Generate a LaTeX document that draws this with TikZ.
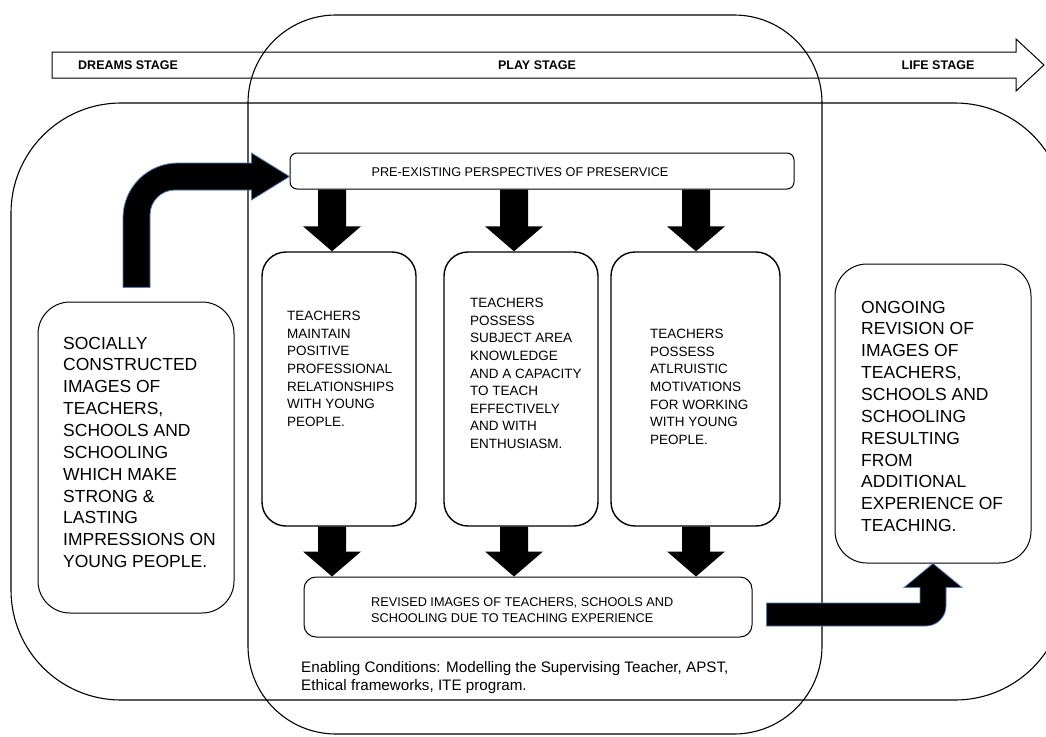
\documentclass[tikz,border=0pt]{standalone}
\usepackage{fontspec}
\setmainfont{Liberation Sans}
\usetikzlibrary{calc}
\definecolor{arrowedge}{RGB}{79,129,189}

% solid black block arrow pointing down, from #1 (top centre) to #2 (tip)
\newcommand\blockdown[2]{%
  \fill[blockfill] ($(#1)+(-14,0)$) -- ($(#2)+(-14,-25)$) -- ($(#2)+(-29,-25)$)
    -- (#2) -- ($(#2)+(29,-25)$) -- ($(#2)+(14,-25)$) -- ($(#1)+(14,0)$) -- cycle;}

\tikzset{
  frame/.style={draw=black, line width=1.1pt},
  roundbox/.style={draw=black, line width=1pt, inner sep=0pt},
  card/.style={draw=black, line width=1.4pt, rounded corners=24pt, inner sep=0pt,
               minimum height=274pt},
  words/.style={inner sep=0pt, align=left, anchor=north west},
  colwords/.style={words, font=\fontsize{13.5}{17.6}\selectfont},
  bigwords/.style={words, font=\fontsize{17.5}{21.85}\selectfont},
  smallwords/.style={inner sep=0pt, align=left, font=\fontsize{12.7}{16.3}\selectfont},
  stagewords/.style={inner sep=0pt, font=\bfseries\fontsize{12.5}{15}\selectfont},
  blockfill/.style={fill=black},
  bentfill/.style={fill=black, draw=arrowedge, line width=0.8pt, line join=miter},
}

\begin{document}
\begin{tikzpicture}[x=1pt, y=-1pt]
\useasboundingbox (0,0) rectangle (1046,736);
\clip (0,0) rectangle (1046,736);

% stage timeline arrow
\draw[line width=1pt, line join=miter]
  (52,52) -- (1016,52) -- (1016,39) -- (1044,65) -- (1016,91) -- (1016,78) -- (52,78) -- cycle;
\node[stagewords, anchor=west] (dreams) at (78,65) {DREAMS STAGE};
\node[stagewords] (play) at (537,65) {PLAY STAGE};
\node[stagewords] (life) at (938,65) {LIFE STAGE};

% the two large overlapping regions
\draw[frame, rounded corners=88pt] (248,15) rectangle (822,734);
\draw[frame, rounded corners=110pt] (11,103) rectangle (1065,700);

% boxes
\node[roundbox, rounded corners=7pt, minimum width=504pt, minimum height=36pt] (pre) at (542,171) {};
\node[smallwords] (pretext) at (520,172) {PRE-EXISTING PERSPECTIVES OF PRESERVICE};

\node[card, minimum width=154pt] (box1) at (339,389) {};
\node[card, minimum width=154pt] (box2) at (521,389) {};
\node[card, minimum width=169pt] (box3) at (695.5,389) {};

\node[colwords] (t1) at (287,311) {TEACHERS\\MAINTAIN\\POSITIVE\\PROFESSIONAL\\RELATIONSHIPS\\WITH YOUNG\\PEOPLE.};
\node[colwords] (t2) at (470,298) {TEACHERS\\POSSESS\\SUBJECT AREA\\KNOWLEDGE\\AND A CAPACITY\\TO TEACH\\EFFECTIVELY\\AND WITH\\ENTHUSIASM.};
\node[colwords] (t3) at (650,329) {TEACHERS\\POSSESS\\ATLRUISTIC\\MOTIVATIONS\\FOR WORKING\\WITH YOUNG\\PEOPLE.};

\node[roundbox, rounded corners=12pt, minimum width=448pt, minimum height=60pt] (rev) at (528,607) {};
\node[smallwords, anchor=north west] (revtext) at (371,597.4) {REVISED IMAGES OF TEACHERS, SCHOOLS AND\\SCHOOLING DUE TO TEACHING EXPERIENCE};

\node[inner sep=0pt, align=left, anchor=north west, font=\fontsize{15.2}{18}\selectfont] (enabling) at (301,661) {Enabling Conditions: Modelling the Supervising Teacher, APST,\\Ethical frameworks, ITE program.};

\node[roundbox, rounded corners=32pt, minimum width=196pt, minimum height=311pt] (lbox) at (136,457.5) {};
\node[bigwords] (ltext) at (63,336.7) {SOCIALLY\\CONSTRUCTED\\IMAGES OF\\TEACHERS,\\SCHOOLS AND\\SCHOOLING\\WHICH MAKE\\STRONG \&\\LASTING\\IMPRESSIONS ON\\YOUNG PEOPLE.};

\node[roundbox, rounded corners=32pt, minimum width=196pt, minimum height=299pt] (rbox) at (933,413.5) {};
\node[bigwords] (rtext) at (861,300.7) {ONGOING\\REVISION OF\\IMAGES OF\\TEACHERS,\\SCHOOLS AND\\SCHOOLING\\RESULTING\\FROM\\ADDITIONAL\\EXPERIENCE OF\\TEACHING.};

% down arrows between the rows
\coordinate (ax1) at (332,0);
\coordinate (ax2) at (514,0);
\coordinate (ax3) at (696,0);
\blockdown{pre.south -| ax1}{box1.north -| ax1}
\blockdown{pre.south -| ax2}{box2.north -| ax2}
\blockdown{pre.south -| ax3}{box3.north -| ax3}
\blockdown{box1.south -| ax1}{rev.north -| ax1}
\blockdown{box2.south -| ax2}{rev.north -| ax2}
\blockdown{box3.south -| ax3}{rev.north -| ax3}

% bent arrow: socially constructed images -> pre-existing perspectives
\coordinate (lstart) at ($(lbox.north)+(0.5,-14)$);
\coordinate (ltip) at ($(pre.west)+(0,5.5)$);
\coordinate (lbend) at (lstart |- ltip);
\filldraw[bentfill] ($(lstart)+(-13.5,0)$) -- ($(lbend)+(-13.5,41.5)$)
  .. controls ($(lbend)+(-13.5,11.1)$) and ($(lbend)+(11.1,-13.5)$) .. ($(lbend)+(41.5,-13.5)$)
  -- ($(ltip)+(-38,-13.5)$) -- ($(ltip)+(-38,-23.5)$) -- (ltip) -- ($(ltip)+(-38,23.5)$)
  -- ($(ltip)+(-38,13.5)$) -- ($(lbend)+(38.5,13.5)$)
  .. controls ($(lbend)+(24.7,13.5)$) and ($(lbend)+(13.5,24.7)$) .. ($(lbend)+(13.5,38.5)$)
  -- ($(lstart)+(13.5,0)$) -- cycle;

% bent arrow: revised images -> ongoing revision
\coordinate (rstart) at ($(rev.east)+(14,7.5)$);
\coordinate (rtip) at (rbox.south);
\coordinate (rbend) at (rtip |- rstart);
\filldraw[bentfill] ($(rstart)+(0,-11.5)$) -- ($(rbend)+(-13,-11.5)$) -- ($(rtip)+(-13,24)$)
  -- ($(rtip)+(-29,24)$) -- (rtip) -- ($(rtip)+(29,24)$) -- ($(rtip)+(13,24)$)
  -- ($(rbend)+(13,-8.5)$)
  .. controls ($(rbend)+(13,2.5)$) and ($(rbend)+(4,11.5)$) .. ($(rbend)+(-7,11.5)$)
  -- ($(rstart)+(0,11.5)$) -- cycle;
\end{tikzpicture}
\end{document}
